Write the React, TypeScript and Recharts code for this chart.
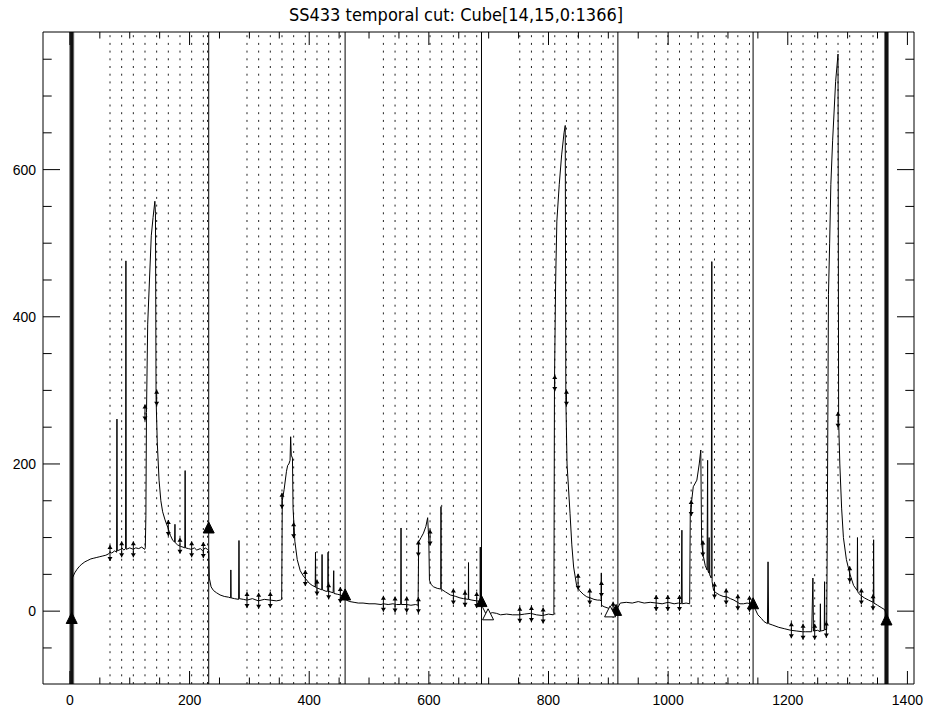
import React from 'react';
import { ComposedChart, Line, Scatter, XAxis, YAxis, ReferenceLine } from 'recharts';

// ---- main time series (cube index vs flux) ----
const cutX = [
  3, 4, 8, 12, 16, 20, 25, 30, 35, 40, 45, 50, 55, 60, 65, 67, 70, 75, 78, 78.6, 79.2, 85, 87, 90, 93, 93.6, 94.2,
  100, 106, 110, 115, 120, 125, 126, 127, 128, 130, 133, 136, 139, 142, 143, 144, 146, 149, 152, 155, 159, 164,
  168, 172, 175, 175.6, 176, 180, 185, 189, 192, 192.6, 193.2, 198, 203, 208, 212, 218, 222, 226, 230, 232,
  233, 236, 240, 245, 251, 258, 265, 268.7, 269, 269.5, 275, 282, 282.6, 283.2, 290, 296, 305, 315, 325, 335,
  345, 352, 354, 355, 358, 362, 364, 366, 368, 369, 370, 372, 373, 376, 380, 385, 390, 393, 400, 405, 410,
  410.5, 411, 418, 421, 421.5, 422, 428, 431, 431.5, 432, 440, 441, 441.5, 447, 452, 458, 462, 468, 475, 482,
  490, 500, 510, 520, 524, 532, 540, 546, 553, 553.5, 554, 563, 570, 578, 582, 583, 587, 591, 595, 598, 600,
  601, 604, 608, 614, 620, 620.3, 620.6, 628, 636, 645, 652, 658, 666, 666.3, 666.6, 672, 680, 685.6, 686,
  686.4, 690, 695, 700, 706, 713, 720, 730, 740, 752, 760, 770, 780, 790, 800, 808, 809, 810, 812, 814, 818,
  822, 826, 828, 829, 831, 836, 839, 842, 847, 852, 858, 864, 870, 876, 882, 886, 888, 888.3, 888.6, 893,
  900, 905, 909, 913, 916, 920, 930, 940, 950, 960, 970, 981, 990, 1000, 1010, 1017, 1022, 1023, 1023.5,
  1030, 1036, 1037, 1042, 1048, 1052, 1054.6, 1056, 1059, 1062, 1065, 1066, 1066.5, 1068, 1068.5, 1069,
  1072, 1073, 1073.5, 1076, 1080, 1086, 1092, 1098, 1104, 1110, 1116, 1120, 1126, 1132, 1138, 1142, 1146,
  1150, 1156, 1160, 1166, 1167, 1168, 1175, 1185, 1195, 1205, 1215, 1225, 1230, 1240, 1242, 1243, 1250,
  1254, 1254.5, 1255, 1261, 1261.5, 1262, 1265, 1266, 1268, 1270, 1272, 1275, 1280, 1284, 1285, 1287, 1290,
  1293, 1298, 1304, 1310, 1316, 1316.5, 1317, 1321, 1328, 1335, 1343, 1343.5, 1344, 1350, 1356, 1362, 1365,
];
const cutY = [
  -8, 45, 52, 57, 61, 64, 67, 69, 71, 72, 73, 74, 75, 76, 78, 80, 79, 82, 80, 261, 82, 84, 86, 83, 85, 476, 84,
  86, 84, 86, 85, 87, 84, 86, 130, 270, 390, 450, 510, 535, 557, 540, 290, 230, 178, 150, 135, 124, 113,
  103, 96, 94, 118, 93, 90, 88, 87, 86, 191, 86, 85, 84, 86, 83, 85, 82, 86, 84, 82,
  45, 33, 28, 25, 22, 20, 19, 18, 56, 18, 17, 16, 96, 17, 16, 15, 17, 14, 16, 15,
  14, 15, 16, 150, 165, 190, 198, 200, 205, 237, 212, 208, 140, 95, 70, 55, 48, 45, 38, 35, 33,
  80, 32, 30, 29, 77, 29, 27, 27, 80, 27, 25, 55, 24, 23, 22, 20, 15, 13, 12, 11,
  11, 10, 10, 9, 10, 9, 10, 9, 9, 113, 9, 9, 8, 9, 8, 94, 100, 106, 115, 127, 95,
  42, 36, 33, 31, 30, 142, 30, 26, 22, 20, 18, 17, 16, 66, 16, 15, 14, 13, 87,
  13, 5, -3, -4, -2, -3, -5, -4, -5, -5, -4, -3, -5, -6, -4, -5, -3, 310, 450, 530, 580,
  620, 650, 660, 290, 200, 133, 90, 60, 35, 28, 23, 19.5, 18, 16, 15, 15, 14, 52, 8, 6,
  4, 3, 2, 1, 5, 11, 12, 11, 13, 11, 12, 11, 10, 12, 10, 11, 10, 110, 10,
  11, 10, 133, 169, 178, 200, 219, 92, 74, 62, 56, 205, 55, 52, 100, 50,
  45, 475, 40, 28, 25, 22, 20, 19.5, 17, 15, 12, 10, 10, 11, 10, 10, 2,
  -5, -10, -14, -17, 67, -17, -19, -22, -24, -26, -27, -28, -28, -28, 45, -27, -26,
  -28, 10, -27, -26, 40, -25, -25, 100, 430, 500, 580, 640, 720, 757, 260, 200, 140,
  100, 70, 50, 35, 28, 100, 26, 22, 18, 15, 12, 97, 11, 8, 5, 2, -5,
];
const cutData = cutX.map((x, i) => ({ x, y: cutY[i] }));

// ---- error-bar markers ----
const errX = [67, 86.5, 106, 125.5, 145, 164.5, 184, 203.5, 223, 296, 315.5, 335, 354.5, 374, 393.5, 413, 432.5, 452,
  524, 543.5, 563, 582.5, 582.5, 602, 641, 660.5, 680, 752, 771.5, 791, 810.5, 830, 849.5, 869, 888.5, 908,
  980, 999.5, 1019, 1038.5, 1058, 1077.5, 1097, 1116.5, 1136, 1206, 1225.5, 1245, 1264.5, 1284, 1303.5, 1323, 1342.5];
const errY = [79, 84, 84, 270, 290, 113, 89, 84, 83, 15, 14, 15, 150, 110, 45, 32, 27, 22,
  10, 9, 9, 8, 85, 100, 20, 17, 15, -5, -4, -6, 310, 290, 40, 20, 30, 2,
  11, 11, 11, 140, 85, 28, 20, 12, 10, -26, -28, -28, -25, 260, 50, 20, 12];
const errData = errX.map((x, i) => ({ x, y: errY[i] }));

// ---- triangle markers ----
const triFilledX = [3, 232, 460, 688, 913, 1142, 1365];
const triFilledY = [-10, 113, 22, 13, 1, 10, -12];
const triOpenX = [699, 903];
const triOpenY = [-5, -1];
const triFilled = triFilledX.map((x, i) => ({ x, y: triFilledY[i] }));
const triOpen = triOpenX.map((x, i) => ({ x, y: triOpenY[i] }));

// ---- vertical markers ----
const thickLines = [3, 1365];
const solidLines = [232, 460, 688, 916, 1142];
const dottedLines = [
  67, 86.5, 106, 125.5, 145, 164.5, 184, 203.5, 223, 230,
  296, 315.5, 335, 354.5, 374, 393.5, 413, 432.5, 452,
  524, 543.5, 563, 582.5, 602, 621.5, 641, 660.5, 680,
  752, 771.5, 791, 810.5, 830, 849.5, 869, 888.5, 908,
  980, 999.5, 1019, 1038.5, 1058, 1077.5, 1097, 1116.5, 1136,
  1206, 1225.5, 1245, 1264.5, 1284, 1303.5, 1323, 1342.5, 1362,
];

// ---- axes ----
const xTicks = [0, 50, 100, 150, 200, 250, 300, 350, 400, 450, 500, 550, 600, 650, 700, 750, 800, 850, 900, 950,
  1000, 1050, 1100, 1150, 1200, 1250, 1300, 1350, 1400];
const xLabels = [0, 200, 400, 600, 800, 1000, 1200, 1400];
const yTicks = [-50, 0, 50, 100, 150, 200, 250, 300, 350, 400, 450, 500, 550, 600, 650, 700, 750];
const yLabels = [0, 200, 400, 600];
const xDomain = [-45, 1411];
const yDomain = [-99, 787];
const title = 'SS433 temporal cut: Cube[14,15,0:1366]';

const labelFont = '"Liberation Sans", Arial, sans-serif';

const BottomTick = (p: any) => {
  const major = xLabels.includes(p.payload.value);
  const len = major ? 13 : 6.5;
  return (
    <g>
      <line x1={p.x} x2={p.x} y1={p.y} y2={p.y - len} stroke="#000" strokeWidth={1} />
      {major && (
        <text x={p.x} y={p.y + 21} textAnchor="middle" fontSize={14} fontFamily={labelFont} fill="#000">
          {p.payload.value}
        </text>
      )}
    </g>
  );
};
const TopTick = (p: any) => {
  const major = xLabels.includes(p.payload.value);
  const len = major ? 13 : 6.5;
  return <line x1={p.x} x2={p.x} y1={p.y} y2={p.y + len} stroke="#000" strokeWidth={1} />;
};
const LeftTick = (p: any) => {
  const major = yLabels.includes(p.payload.value);
  const len = major ? 17 : 8.7;
  return (
    <g>
      <line x1={p.x} x2={p.x + len} y1={p.y} y2={p.y} stroke="#000" strokeWidth={1} />
      {major && (
        <text x={p.x - 7} y={p.y + 5} textAnchor="end" fontSize={14} fontFamily={labelFont} fill="#000">
          {p.payload.value}
        </text>
      )}
    </g>
  );
};
const RightTick = (p: any) => {
  const major = yLabels.includes(p.payload.value);
  const len = major ? 17 : 8.7;
  return <line x1={p.x} x2={p.x - len} y1={p.y} y2={p.y} stroke="#000" strokeWidth={1} />;
};

const ErrShape = (p: any) => {
  const { cx, cy } = p;
  if (cx == null || cy == null) return null;
  const h = 8;
  return (
    <g>
      <line x1={cx} x2={cx} y1={cy - h} y2={cy + h} stroke="#000" strokeWidth={1} />
      <path d={`M${cx - 2.5},${cy - h + 4} L${cx},${cy - h} L${cx + 2.5},${cy - h + 4} Z`} fill="#000" />
      <path d={`M${cx - 2.5},${cy + h - 4} L${cx},${cy + h} L${cx + 2.5},${cy + h - 4} Z`} fill="#000" />
    </g>
  );
};
const TriFilledShape = (p: any) => {
  const { cx, cy } = p;
  if (cx == null || cy == null) return null;
  return <path d={`M${cx - 5.5},${cy + 5} L${cx},${cy - 6} L${cx + 5.5},${cy + 5} Z`} fill="#000" stroke="#000" />;
};
const TriOpenShape = (p: any) => {
  const { cx, cy } = p;
  if (cx == null || cy == null) return null;
  return <path d={`M${cx - 5.5},${cy + 5} L${cx},${cy - 6} L${cx + 5.5},${cy + 5} Z`} fill="#fff" stroke="#000" />;
};

export default function App() {
  return (
    <div style={{ position: 'relative', width: 925, height: 708 }}>
      <style>{'html,body{margin:0;padding:0;overflow:hidden;} #root{width:925px;height:708px;}'}</style>
      <ComposedChart width={925} height={708} margin={{ top: 0, right: 0, bottom: 0, left: 0 }}>
        <XAxis
          xAxisId={0} dataKey="x" type="number" domain={xDomain} ticks={xTicks} interval={0}
          allowDataOverflow orientation="bottom" height={24} tickSize={0} tickMargin={0}
          tick={<BottomTick />} axisLine={{ stroke: '#000' }} tickLine={false}
        />
        <XAxis
          xAxisId="top" dataKey="x" type="number" domain={xDomain} ticks={xTicks} interval={0}
          allowDataOverflow orientation="top" height={32} tickSize={0} tickMargin={0}
          tick={<TopTick />} axisLine={{ stroke: '#000' }} tickLine={false}
        />
        <YAxis
          yAxisId={0} type="number" domain={yDomain} ticks={yTicks} interval={0}
          allowDataOverflow orientation="left" width={43} tickSize={0} tickMargin={0}
          tick={<LeftTick />} axisLine={{ stroke: '#000' }} tickLine={false}
        />
        <YAxis
          yAxisId="right" type="number" domain={yDomain} ticks={yTicks} interval={0}
          allowDataOverflow orientation="right" width={11} tickSize={0} tickMargin={0}
          tick={<RightTick />} axisLine={{ stroke: '#000' }} tickLine={false}
        />
        {dottedLines.map((v) => (
          <ReferenceLine key={'d' + v} x={v} xAxisId={0} yAxisId={0} stroke="#222" strokeWidth={1} strokeDasharray="2 5.7" />
        ))}
        {solidLines.map((v) => (
          <ReferenceLine key={'s' + v} x={v} xAxisId={0} yAxisId={0} stroke="#000" strokeWidth={1} />
        ))}
        {thickLines.map((v) => (
          <ReferenceLine key={'tg' + v} x={v} xAxisId={0} yAxisId={0} stroke="#777" strokeWidth={5} />
        ))}
        {thickLines.map((v) => (
          <ReferenceLine key={'t' + v} x={v} xAxisId={0} yAxisId={0} stroke="#111" strokeWidth={3} />
        ))}
        <Line
          data={cutData} dataKey="y" xAxisId={0} yAxisId={0} type="linear" dot={false} stroke="#000"
          strokeWidth={1} isAnimationActive={false} activeDot={false}
        />
        <Scatter data={errData} dataKey="y" xAxisId={0} yAxisId={0} shape={<ErrShape />} isAnimationActive={false} />
        <Scatter data={triFilled} dataKey="y" xAxisId={0} yAxisId={0} shape={<TriFilledShape />} isAnimationActive={false} />
        <Scatter data={triOpen} dataKey="y" xAxisId={0} yAxisId={0} shape={<TriOpenShape />} isAnimationActive={false} />
      </ComposedChart>
      <div
        style={{
          position: 'absolute', left: 0, top: 8, width: 912, textAlign: 'center', whiteSpace: 'nowrap',
          fontFamily: '"DejaVu Sans Condensed", "Liberation Sans Narrow", sans-serif', fontSize: 18, lineHeight: '14px',
          color: '#000',
        }}
      >
        {title}
      </div>
    </div>
  );
}
